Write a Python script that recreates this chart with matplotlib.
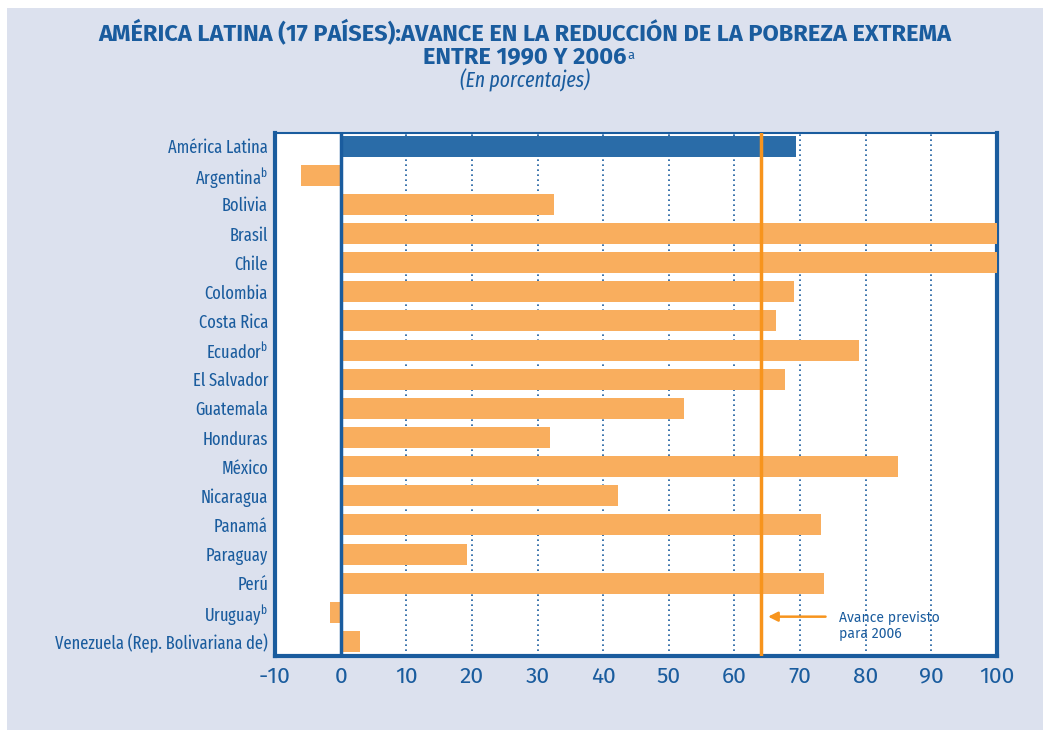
import matplotlib
matplotlib.use("Agg")
import matplotlib.pyplot as plt
from matplotlib.patches import Rectangle
import matplotlib.font_manager as fm

# ---------------- data ----------------
countries = ["América Latina", "Argentina$^{b}$", "Bolivia", "Brasil", "Chile", "Colombia",
             "Costa Rica", "Ecuador$^{b}$", "El Salvador", "Guatemala", "Honduras", "México",
             "Nicaragua", "Panamá", "Paraguay", "Perú", "Uruguay$^{b}$",
             "Venezuela (Rep. Bolivariana de)"]
values = [69.4, -6.0, 32.5, 100, 100, 69.1, 66.3, 79.0, 67.7, 52.3, 31.9, 84.9,
          42.3, 73.2, 19.3, 73.6, -1.6, 2.9]
target = 64.0
xticks = [-10, 0, 10, 20, 30, 40, 50, 60, 70, 80, 90, 100]
title1 = "AMÉRICA LATINA (17 PAÍSES):AVANCE EN LA REDUCCIÓN DE LA POBREZA EXTREMA"
title2 = "ENTRE 1990 Y 2006"
title2_sup = "a"
subtitle = "(En porcentajes)"
note = "Avance previsto\npara 2006"

# ---------------- fonts ----------------
names = {f.name for f in fm.fontManager.ttflist}


def pick(cands):
    return next((c for c in cands if c in names), "DejaVu Sans")


FONT = pick(["Fira Sans Extra Condensed", "Fira Sans Condensed", "Roboto Condensed",
             "Barlow Condensed", "PT Sans Narrow", "Archivo Narrow"])
RFONT = pick(["Fira Sans", "Roboto", "Open Sans"])
plt.rcParams['font.family'] = [FONT, 'DejaVu Sans']
plt.rcParams['mathtext.fontset'] = 'custom'
plt.rcParams['mathtext.rm'] = FONT
plt.rcParams['mathtext.it'] = FONT + ":italic"
plt.rcParams['mathtext.default'] = 'rm'

BLUE = "#1a5c9e"
DARK = "#2a6ca8"
ORANGE = "#f9ae5e"
LINE = "#f7941d"
BG = "#dce1ee"

fig = plt.figure(figsize=(10.5, 7.31), dpi=100)
fig.patch.set_facecolor("white")
fig.patches.append(Rectangle((7/1050, 1-730/731), 1036/1050, 722/731,
                             transform=fig.transFigure, facecolor=BG, edgecolor="none", zorder=-10))
renderer = fig.canvas.get_renderer()


def size_for(s, width_px, **kw):
    t = fig.text(0, 0, s, fontsize=20, **kw)
    w = t.get_window_extent(renderer).width
    t.remove()
    return 20 * width_px / w


lab_fs = size_for("Venezuela (Rep. Bolivariana de)", 213)
tick_fs = size_for("100", 35, family=RFONT)
title_fs = min(size_for(title1, 947, fontweight="bold", family=RFONT), 17)
sub_fs = size_for(subtitle, 130, style="italic")
note_fs = size_for("Avance previsto", 101, family=RFONT)

ax = fig.add_axes([275/1050, 1-656/731, 722/1050, 523/731])
ax.set_facecolor("white")
ys = list(range(len(countries)))
colors = [DARK] + [ORANGE] * (len(countries) - 1)
ax.barh(ys, values, height=0.72, color=colors, zorder=3)
ax.set_xlim(-10, 100)
ax.set_ylim(len(countries) - 1 + 0.5, -0.45)
ax.set_yticks(ys)
ax.set_yticklabels(countries, fontsize=lab_fs, color=BLUE)
ax.set_xticks(xticks)
ax.set_xticklabels([str(t) for t in xticks], fontsize=tick_fs, color=BLUE, family=RFONT)
ax.tick_params(axis="y", length=0, pad=5)
ax.tick_params(axis="x", length=0, pad=7)
for t in xticks[2:-1]:
    ax.axvline(t, color=BLUE, lw=1.2, ls=(0, (1, 2)), zorder=1)
ax.axvline(0, color=BLUE, lw=2.5, zorder=4)
ax.axvline(target, color=LINE, lw=2.5, zorder=5)
for s in ["left", "bottom", "right"]:
    ax.spines[s].set_color(BLUE)
    ax.spines[s].set_linewidth(3)
ax.spines["top"].set_color(BLUE)
ax.spines["top"].set_linewidth(1.5)

ax.annotate("", xy=(target + 0.7, 16.15), xytext=(74.3, 16.15),
            arrowprops=dict(arrowstyle="-|>", color=LINE, lw=1.8, mutation_scale=14),
            zorder=6)
ax.text(75.9, 16.46, note, fontsize=note_fs, color=BLUE, family=RFONT,
        va="center", ha="left", linespacing=1.15)

fig.text(0.5, 1-33/731, title1, ha="center", va="center",
         fontsize=title_fs, fontweight="bold", color=BLUE, family=RFONT)
t2 = fig.text(0.5, 1-57/731, title2, ha="center", va="center",
              fontsize=title_fs, fontweight="bold", color=BLUE, family=RFONT)
bb = t2.get_window_extent(renderer)
fig.text((bb.x1 + 1) / 1050, (bb.y1 - 4) / 731, title2_sup, ha="left", va="top",
         fontsize=title_fs * 0.55, color=BLUE, family=RFONT)
fig.text(0.5, 1-80/731, subtitle, ha="center", va="center",
         fontsize=sub_fs, style="italic", color=BLUE)

fig.savefig("out.png", dpi=100)
